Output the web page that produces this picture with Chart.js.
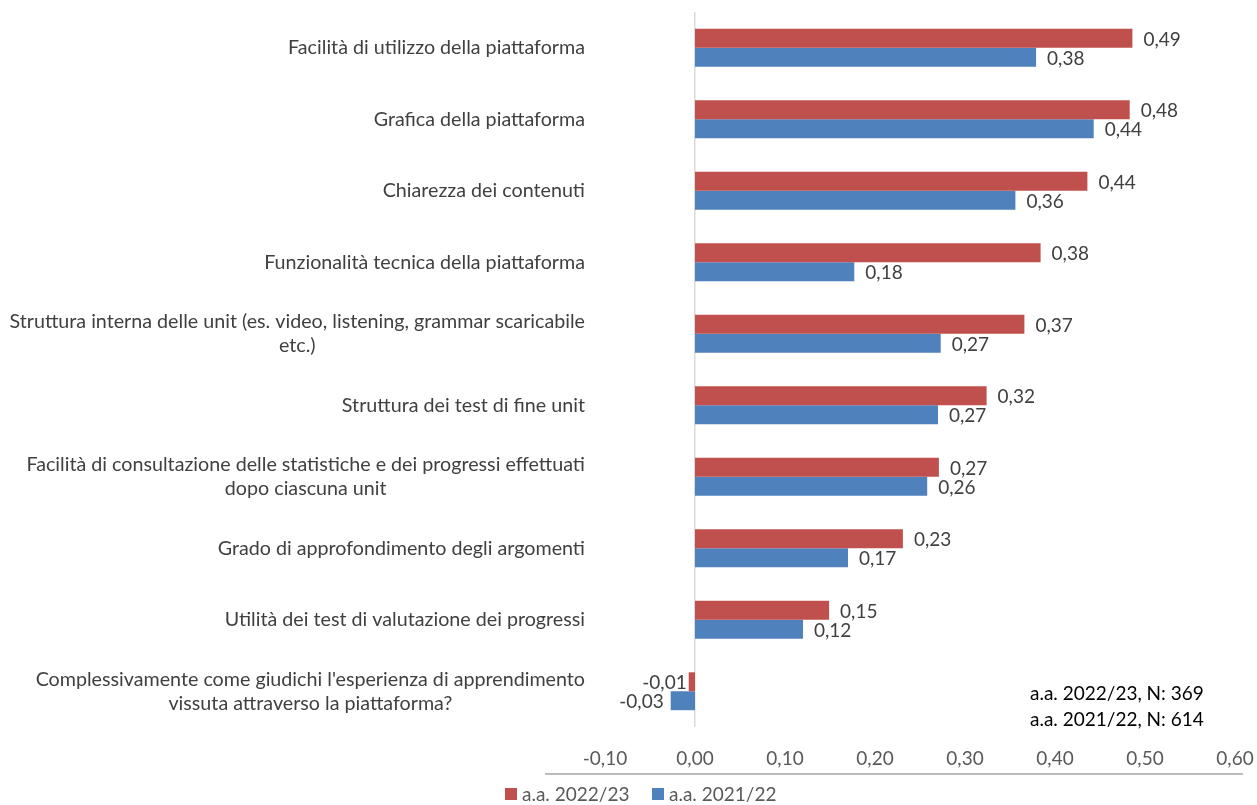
<!DOCTYPE html>
<html>
<head>
<meta charset="utf-8">
<script src="https://cdn.jsdelivr.net/npm/chart.js@4.4.1/dist/chart.umd.min.js"></script>
<style>
  html, body { margin: 0; padding: 0; background: #ffffff; }
  #wrap { width: 1257px; height: 805px; position: relative; }
</style>
</head>
<body>
<div id="wrap"><canvas id="ratingChart"></canvas></div>
<script>
// categories (already split in lines as in the original)
var categories = [
  ['Facilità di utilizzo della piattaforma'],
  ['Grafica della piattaforma'],
  ['Chiarezza dei contenuti'],
  ['Funzionalità tecnica della piattaforma'],
  ['Struttura interna delle unit (es. video, listening, grammar scaricabile', 'etc.)'],
  ['Struttura dei test di fine unit'],
  ['Facilità di consultazione delle statistiche e dei progressi effettuati', 'dopo ciascuna unit'],
  ['Grado di approfondimento degli argomenti'],
  ['Utilità dei test di valutazione dei progressi'],
  ["Complessivamente come giudichi l'esperienza di apprendimento", 'vissuta attraverso la piattaforma?']
];

var seriesNames = ['a.a. 2022/23', 'a.a. 2021/22'];
var values2223 = [0.486, 0.483, 0.436, 0.384, 0.366, 0.324, 0.271, 0.231, 0.149, -0.007];
var values2122 = [0.379, 0.443, 0.356, 0.177, 0.273, 0.270, 0.258, 0.170, 0.120, -0.027];
var sampleNotes = ['a.a. 2022/23, N: 369', 'a.a. 2021/22, N: 614'];

var xMin = -0.1, xMax = 0.6, xStep = 0.1;

var colRed = '#C0504D';
var colBlue = '#4F81BD';
var fontFamily = 'Lato, "Open Sans", sans-serif';

function fmt(v) {
  if (Math.abs(v) < 1e-9) v = 0;
  return v.toFixed(2).replace('.', ',');
}

// labels, data labels, legend, notes
var decorPlugin = {
  id: 'decor',
  afterDraw: function (chart) {
    var ctx = chart.ctx;
    var yScale = chart.scales.y;
    ctx.save();

    // category labels, block right aligned, lines centered
    ctx.font = '19.7px ' + fontFamily;
    ctx.fillStyle = '#404040';
    ctx.textAlign = 'center';
    ctx.textBaseline = 'middle';
    var rightEdge = 585;
    var lineH = 24;
    categories.forEach(function (lines, i) {
      var cy = yScale.getPixelForValue(i);
      var maxW = 0;
      lines.forEach(function (l) { maxW = Math.max(maxW, ctx.measureText(l).width); });
      var cx = rightEdge - maxW / 2;
      var y0 = cy - (lines.length - 1) * lineH / 2;
      lines.forEach(function (l, k) {
        ctx.fillText(l, cx, y0 + k * lineH);
      });
    });

    // data labels
    ctx.font = '19px ' + fontFamily;
    chart.data.datasets.forEach(function (ds, di) {
      var meta = chart.getDatasetMeta(di);
      meta.data.forEach(function (bar, i) {
        var v = ds.data[i];
        if (v >= 0) {
          ctx.textAlign = 'left';
          ctx.fillText(fmt(v), bar.x + 11, bar.y + 1.5);
        } else {
          ctx.textAlign = 'right';
          ctx.fillText(fmt(v), bar.x - (di === 0 ? 2 : 7), bar.y + 1.5);
        }
      });
    });

    // sample notes
    ctx.textAlign = 'left';
    ctx.fillStyle = '#000000';
    ctx.fillText(sampleNotes[0], 1030, 694);
    ctx.fillText(sampleNotes[1], 1030, 720);

    // line under the axis labels
    ctx.strokeStyle = '#a6a6a6';
    ctx.lineWidth = 1.5;
    ctx.beginPath();
    ctx.moveTo(545, 774);
    ctx.lineTo(1243, 774);
    ctx.stroke();

    // legend
    ctx.fillStyle = colRed;
    ctx.fillRect(505, 788, 12, 12);
    ctx.fillStyle = colBlue;
    ctx.fillRect(652, 788, 12, 12);
    ctx.fillStyle = '#595959';
    ctx.fillText(seriesNames[0], 522, 795);
    ctx.fillText(seriesNames[1], 669, 795);

    ctx.restore();
  }
};

var ctx = document.getElementById('ratingChart').getContext('2d');
var chart = new Chart(ctx, {
  type: 'bar',
  data: {
    labels: categories,
    datasets: [
      {
        label: seriesNames[0],
        data: values2223,
        backgroundColor: colRed,
        borderWidth: 0
      },
      {
        label: seriesNames[1],
        data: values2122,
        backgroundColor: colBlue,
        borderWidth: 0
      }
    ]
  },
  options: {
    indexAxis: 'y',
    responsive: true,
    maintainAspectRatio: false,
    animation: false,
    layout: {
      padding: { top: 12, right: 22, bottom: 32, left: 0 }
    },
    datasets: {
      bar: { categoryPercentage: 0.53, barPercentage: 1.0 }
    },
    scales: {
      x: {
        min: xMin,
        max: xMax,
        border: { display: false },
        grid: {
          drawTicks: false,
          lineWidth: 1.5,
          color: function (c) {
            return (c.tick && Math.abs(c.tick.value) < 1e-9) ? '#d9d9d9' : 'rgba(0,0,0,0)';
          }
        },
        ticks: {
          stepSize: xStep,
          padding: 20,
          color: '#595959',
          font: { family: fontFamily, size: 19 },
          callback: function (value) { return fmt(value); }
        },
        afterFit: function (scale) {
          scale.height = 46;
          scale.paddingLeft = 0;
          scale.paddingRight = 0;
        }
      },
      y: {
        border: { display: false },
        grid: { display: false },
        ticks: { display: false },
        afterFit: function (scale) { scale.width = 605; }
      }
    },
    plugins: {
      legend: { display: false },
      tooltip: { enabled: true }
    }
  },
  plugins: [decorPlugin]
});
</script>
</body>
</html>
